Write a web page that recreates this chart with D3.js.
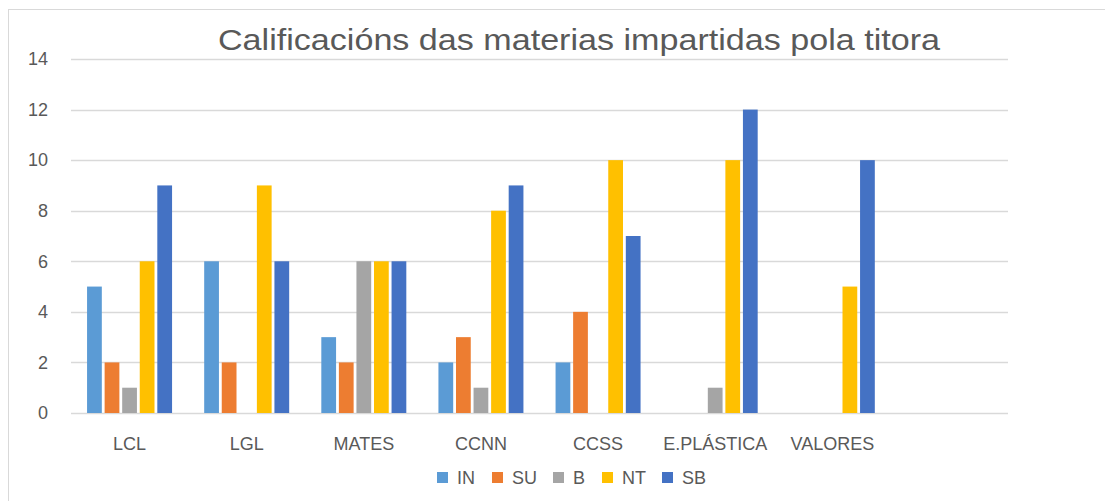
<!DOCTYPE html>
<html>
<head>
<meta charset="utf-8">
<script src="https://cdn.jsdelivr.net/npm/d3@7"></script>
<style>
  body { margin: 0; background: #fff; }
  text { font-family: "Liberation Sans", Arial, sans-serif; fill: #595959; }
</style>
</head>
<body>
<div id="chart"></div>
<script>
/** data */
var subjects = ["LCL", "LGL", "MATES", "CCNN", "CCSS", "E.PLÁSTICA", "VALORES", ""];
var grades = ["IN", "SU", "B", "NT", "SB"];
var valIN = [5, 6, 3, 2, 2, 0, 0, 0];
var valSU = [2, 2, 2, 3, 4, 0, 0, 0];
var valB  = [1, 0, 6, 1, 0, 1, 0, 0];
var valNT = [6, 9, 6, 8, 10, 10, 5, 0];
var valSB = [9, 6, 6, 9, 7, 12, 10, 0];
var yTicks = [0, 2, 4, 6, 8, 10, 12, 14];
var colours = ["#5B9BD5", "#ED7D31", "#A5A5A5", "#FFC000", "#4472C4"];

var series = [valIN, valSU, valB, valNT, valSB];

/** size of the page and the plot area */
var width = 1105, height = 501;
var margin = {top: 59, right: 97, bottom: 88, left: 71};
var plotW = width - margin.left - margin.right;
var plotH = height - margin.top - margin.bottom;

var svg = d3.select("#chart")
  .append("svg")
    .attr("width", width)
    .attr("height", height);

/** light frame round the chart */
svg.append("rect")
  .attr("x", 8.5).attr("y", 9.5)
  .attr("width", width + 10).attr("height", height + 10)
  .attr("fill", "none")
  .attr("stroke", "#D9D9D9");

var g = svg.append("g")
  .attr("transform", "translate(" + margin.left + "," + margin.top + ")");

/** scales */
var x0 = d3.scaleBand()
  .domain(subjects.map(function(d, i) { return i; }))
  .range([0, plotW]);

var x1 = d3.scaleBand()
  .domain(grades)
  .range([x0.bandwidth() / 2 - 42.5, x0.bandwidth() / 2 + 42.5])
  .paddingInner(0.16);

var y = d3.scaleLinear()
  .domain([0, 14])
  .range([plotH, 0]);

/** gridlines */
g.selectAll(".grid")
  .data(yTicks)
  .enter()
  .append("line")
    .attr("x1", 0)
    .attr("x2", plotW)
    .attr("y1", function(d) { return Math.round(y(d)) + 0.5; })
    .attr("y2", function(d) { return Math.round(y(d)) + 0.5; })
    .attr("stroke", "#D9D9D9")
    .attr("stroke-width", 1.3);

/** y axis labels */
var yAxis = g.append("g")
  .call(d3.axisLeft(y).tickValues(yTicks).tickSize(0).tickPadding(23));
yAxis.select(".domain").remove();
yAxis.selectAll("text")
  .attr("font-size", 18)
  .style("font-family", "'Liberation Sans', Arial, sans-serif")
  .attr("fill", "#595959");

/** x axis labels */
var xAxis = g.append("g")
  .attr("transform", "translate(0," + plotH + ")")
  .call(d3.axisBottom(x0).tickFormat(function(i) { return subjects[i]; }).tickSize(0).tickPadding(24));
xAxis.select(".domain").remove();
xAxis.selectAll("text")
  .attr("font-size", 18)
  .style("font-family", "'Liberation Sans', Arial, sans-serif")
  .attr("fill", "#595959");

/** bars */
grades.forEach(function(gr, k) {
  g.selectAll(".bar" + k)
    .data(series[k])
    .enter()
    .append("rect")
      .attr("x", function(d, i) { return x0(i) + x1(gr); })
      .attr("y", function(d) { return y(d); })
      .attr("width", x1.bandwidth())
      .attr("height", function(d) { return plotH - y(d); })
      .attr("fill", colours[k]);
});

/** title */
svg.append("text")
  .attr("x", 579)
  .attr("y", 50)
  .attr("text-anchor", "middle")
  .attr("font-size", 30)
  .attr("textLength", 722)
  .attr("lengthAdjust", "spacingAndGlyphs")
  .text("Calificacións das materias impartidas pola titora");

/** legend */
var legendX = [437, 492, 553, 602, 662];
var legend = svg.selectAll(".legend")
  .data(grades)
  .enter()
  .append("g")
    .attr("transform", function(d, i) { return "translate(" + legendX[i] + ",472)"; });
legend.append("rect")
  .attr("width", 11).attr("height", 11)
  .attr("fill", function(d, i) { return colours[i]; });
legend.append("text")
  .attr("x", 20)
  .attr("y", 12)
  .attr("font-size", 18)
  .text(function(d) { return d; });
</script>
</body>
</html>
